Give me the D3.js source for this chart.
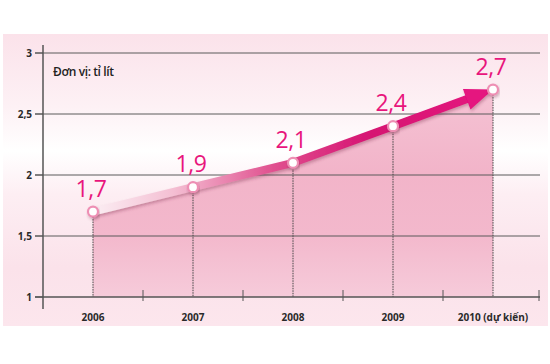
<!DOCTYPE html>
<html>
<head>
<meta charset="utf-8">
<script src="https://cdn.jsdelivr.net/npm/d3@7"></script>
<style>
  body { margin: 0; background: #fff; }
  svg { display: block; }
  .tick-label { font-family: "Open Sans", sans-serif; font-weight: 700; font-size: 10px; fill: #2a2a2a; }
  .unit { font-family: "Open Sans", sans-serif; font-weight: 600; font-size: 12px; fill: #222; letter-spacing: -0.4px; }
  .value-label { font-family: "Open Sans", sans-serif; font-weight: 400; font-size: 23px; fill: #e8157c; letter-spacing: -0.5px; }
</style>
</head>
<body>
<div id="chart"></div>
<script>
const years = ["2006", "2007", "2008", "2009", "2010 (dự kiến)"];
const values = [1.7, 1.9, 2.1, 2.4, 2.7];
const valueLabels = ["1,7", "1,9", "2,1", "2,4", "2,7"];
const yTicks = [1, 1.5, 2, 2.5, 3];
const yTickLabels = ["1", "1,5", "2", "2,5", "3"];
const unitLabel = "Đơn vị: tỉ lít";

const width = 550, height = 364;
const PANEL = { x: 3, y: 34, w: 545, h: 292 };

const series = years.map((year, i) => ({ year, value: values[i], label: valueLabels[i] }));

const svg = d3.select("#chart").append("svg")
  .attr("width", width)
  .attr("height", height);

const x = d3.scaleBand().domain(years).range([43, 543]).padding(0);
const cx = (d) => x(d.year) + x.bandwidth() / 2;
const y = d3.scaleLinear().domain([1, 3]).range([297, 53]);

const defs = svg.append("defs");

// panel background gradient
const bg = defs.append("linearGradient").attr("id", "bg")
  .attr("x1", 0).attr("y1", 0).attr("x2", 0).attr("y2", 1);
[[0, "#fbe2ea"], [0.25, "#fdf1f5"], [0.4, "#ffffff"], [0.55, "#fdeef3"], [0.8, "#fbe2ea"], [1, "#fce6ed"]]
  .forEach(([o, c]) => bg.append("stop").attr("offset", o).attr("stop-color", c));

// area gradient
const areaGrad = defs.append("linearGradient").attr("id", "areaGrad")
  .attr("gradientUnits", "userSpaceOnUse")
  .attr("x1", 0).attr("y1", y(2.7)).attr("x2", 0).attr("y2", y(1));
[[0, "#f5c3d4"], [0.4, "#f2b4c9"], [0.7, "#f3b8cc"], [1, "#f6cbda"]]
  .forEach(([o, c]) => areaGrad.append("stop").attr("offset", o).attr("stop-color", c));

// arrow gradient
const lineGrad = defs.append("linearGradient").attr("id", "lineGrad")
  .attr("gradientUnits", "userSpaceOnUse")
  .attr("x1", cx(series[0])).attr("y1", 0)
  .attr("x2", cx(series[series.length - 1])).attr("y2", 0);
[[0, "#fbeef3"], [0.2, "#f4bfd3"], [0.45, "#e0508f"], [0.7, "#d61272"], [1, "#e5127f"]]
  .forEach(([o, c]) => lineGrad.append("stop").attr("offset", o).attr("stop-color", c));

const shadow = defs.append("filter").attr("id", "shadow")
  .attr("x", "-20%").attr("y", "-50%").attr("width", "140%").attr("height", "200%");
shadow.append("feDropShadow").attr("dx", 1).attr("dy", 2).attr("stdDeviation", 1.5)
  .attr("flood-color", "#7a2a4a").attr("flood-opacity", 0.35);

// panel
svg.append("rect")
  .attr("x", PANEL.x).attr("y", PANEL.y)
  .attr("width", PANEL.w).attr("height", PANEL.h)
  .attr("fill", "url(#bg)");

// area under the line
const area = d3.area()
  .x(cx)
  .y0(y(1))
  .y1((d) => y(d.value));

svg.append("path")
  .datum(series)
  .attr("fill", "url(#areaGrad)")
  .attr("d", area);

// horizontal gridlines
svg.append("g")
  .selectAll("line")
  .data(yTicks.slice(1))
  .join("line")
  .attr("x1", 35).attr("x2", 540)
  .attr("y1", (d) => y(d)).attr("y2", (d) => y(d))
  .attr("stroke", "#5a5a5a").attr("stroke-width", 1);

// vertical dotted drop lines
svg.append("g")
  .selectAll("line")
  .data(series)
  .join("line")
  .attr("x1", cx).attr("x2", cx)
  .attr("y1", (d) => y(d.value)).attr("y2", y(1))
  .attr("stroke", "#444").attr("stroke-width", 1)
  .attr("stroke-dasharray", "1.5,1");

// y axis
const yAxis = svg.append("g");
yAxis.append("line")
  .attr("x1", 43).attr("x2", 43)
  .attr("y1", 45).attr("y2", 309)
  .attr("stroke", "#555").attr("stroke-width", 1.5);
yAxis.selectAll("line.tick")
  .data(yTicks)
  .join("line")
  .attr("class", "tick")
  .attr("x1", 35).attr("x2", 43)
  .attr("y1", (d) => y(d)).attr("y2", (d) => y(d))
  .attr("stroke", "#555").attr("stroke-width", 1);
yAxis.selectAll("text")
  .data(yTicks)
  .join("text")
  .attr("class", "tick-label")
  .attr("x", 32)
  .attr("y", (d) => y(d))
  .attr("dy", "0.35em")
  .attr("text-anchor", "end")
  .text((d, i) => yTickLabels[i]);

// x axis
const xAxis = svg.append("g");
xAxis.append("line")
  .attr("x1", 35).attr("x2", 540)
  .attr("y1", y(1)).attr("y2", y(1))
  .attr("stroke", "#555").attr("stroke-width", 1.5);
const boundaries = years.slice(1).map((yr) => x(yr)).concat([x(years[years.length - 1]) + x.bandwidth() - 4]);
xAxis.selectAll("line.tick")
  .data(boundaries)
  .join("line")
  .attr("class", "tick")
  .attr("x1", (d) => d).attr("x2", (d) => d)
  .attr("y1", y(1) - 7).attr("y2", y(1) + 4)
  .attr("stroke", "#555").attr("stroke-width", 1);
xAxis.selectAll("text")
  .data(years)
  .join("text")
  .attr("class", "tick-label")
  .attr("x", (d) => x(d) + x.bandwidth() / 2)
  .attr("y", 321)
  .attr("text-anchor", "middle")
  .text((d) => d);

// unit label
svg.append("text")
  .attr("class", "unit")
  .attr("x", 53).attr("y", 76)
  .text(unitLabel);

// arrow line
const pts = series.map((d) => [cx(d), y(d.value)]);
const tip = pts[pts.length - 1];
const prev = pts[pts.length - 2];
const dx = tip[0] - prev[0], dy = tip[1] - prev[1];
const len = Math.hypot(dx, dy);
const ux = dx / len, uy = dy / len;
const headLen = 28, headHalf = 11;
const base = [tip[0] - ux * headLen, tip[1] - uy * headLen];
const lineEnd = [tip[0] - ux * (headLen - 4), tip[1] - uy * (headLen - 4)];

const arrowG = svg.append("g").attr("filter", "url(#shadow)");
arrowG.append("path")
  .attr("d", d3.line()(pts.slice(0, -1).concat([lineEnd])))
  .attr("fill", "none")
  .attr("stroke", "url(#lineGrad)")
  .attr("stroke-width", 8)
  .attr("stroke-linejoin", "round");
arrowG.append("path")
  .attr("d", d3.line()([
    tip,
    [base[0] - uy * headHalf, base[1] + ux * headHalf],
    [base[0] + uy * headHalf, base[1] - ux * headHalf]
  ]) + "Z")
  .attr("fill", "#e5127f");

// points
svg.append("g")
  .selectAll("circle")
  .data(series)
  .join("circle")
  .attr("cx", cx)
  .attr("cy", (d) => y(d.value))
  .attr("r", 5)
  .attr("fill", "#fff")
  .attr("stroke", "#ee8fb4")
  .attr("stroke-width", 2.2)
  .attr("filter", "url(#shadow)");

// value labels
svg.append("g")
  .selectAll("text")
  .data(series)
  .join("text")
  .attr("class", "value-label")
  .attr("x", (d) => cx(d) - 2)
  .attr("y", (d) => y(d.value) - 15)
  .attr("text-anchor", "middle")
  .text((d) => d.label);
</script>
</body>
</html>
